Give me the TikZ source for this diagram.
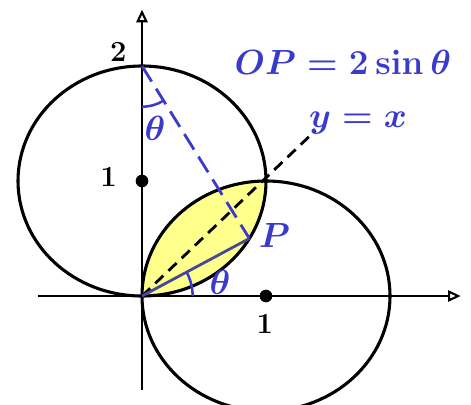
\documentclass[tikz,border=0pt]{standalone}
\usepackage{amsmath,amssymb}
\usepackage{xcolor}
\usepackage{tikz}
\usetikzlibrary{calc,arrows.meta,positioning,angles,quotes}
\definecolor{sketchBlue}{RGB}{58,58,205}
\definecolor{sketchSlate}{RGB}{72,72,150}
\definecolor{lensYellow}{RGB}{255,255,140}
\tikzset{
  lblBlue/.style={text=sketchBlue, font=\Huge\boldmath},
  lblBlack/.style={font=\huge\boldmath},
  axisLine/.style={line width=1.5pt, -{Triangle[open,length=9pt,width=8pt]}},
  circLine/.style={line width=2.2pt},
  angArc/.style={draw, sketchBlue, line width=1.8pt}
}

\begin{document}
\begin{tikzpicture}[x=3.1cm, y=2.875cm]
\useasboundingbox (-1.1452,-0.9391) rectangle (2.6532,2.5739);
\coordinate (O) at (0,0);
\coordinate (X) at (1,0);
\coordinate (T) at (0,2);
\coordinate (P) at ({sin(60)},{1-cos(60)});
\coordinate (diagEnd) at (1.40,1.44);
% lens shared by both circles
\begin{scope}
\clip (0,1) circle[radius=1];
\fill[lensYellow] (1,0) circle[radius=1];
\end{scope}
\draw[axisLine] (-0.84,0)--(2.57,0);
\draw[axisLine] (0,-0.82)--(0,2.49);
\draw[circLine] (0,1) circle[radius=1];
\draw[circLine] (1,0) circle[radius=1];
\fill (0,1) circle[radius=4.5pt];
\fill (1,0) circle[radius=4.5pt];
\draw[line width=2pt, dash pattern=on 8pt off 5pt] (O)--(diagEnd);
\draw[sketchBlue, line width=2pt, dash pattern=on 13pt off 6pt] (T)--(P);
\draw[sketchSlate, line width=2pt] (O)--(P);
\pic[angArc, angle radius=36pt] {angle=X--O--P};
\pic[angArc, angle radius=29pt] {angle=O--T--P};
\node[lblBlack] (twoLab) at (-0.19,2.12) {$2$};
\node[lblBlack] (oneY) at (-0.27,1.03) {$1$};
\node[lblBlack] (oneX) at (0.99,-0.24) {$1$};
\node[lblBlue] (thetaTop) at (0.105,1.46) {$\theta$};
\node[lblBlue] (thetaO) at (0.63,0.12) {$\theta$};
\node[lblBlue] (pLab) at (1.07,0.53) {$P$};
\node[lblBlue] (diagLab) at (1.742,1.50) {$y=x$};
\node[lblBlue] (opLab) at (1.62,2.03) {$OP=2\sin\theta$};
\end{tikzpicture}
\end{document}
